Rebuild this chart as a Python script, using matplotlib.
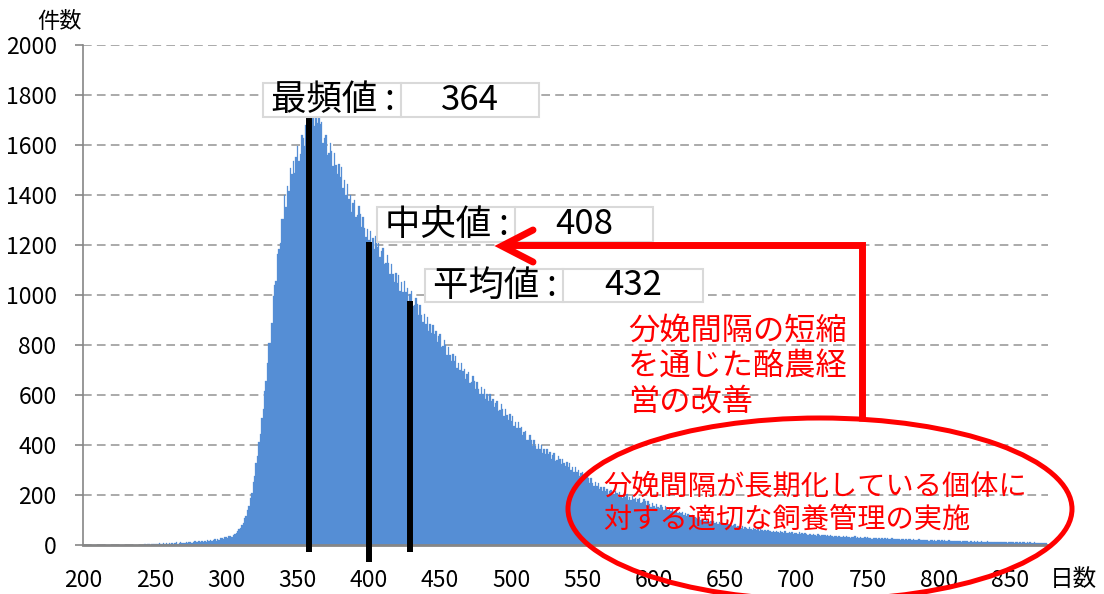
"""
calving interval histogram (days) with mode / median / mean markers
"""

import numpy as np
import matplotlib as mpl
mpl.use('Agg')
import matplotlib.pyplot as plt
from matplotlib.patches import Rectangle, Ellipse
from matplotlib.lines import Line2D
from matplotlib.transforms import Affine2D

plt.rcParams['font.family'] = ['Noto Sans CJK JP', 'DejaVu Sans']

# data: number of cows per calving interval (1 day bins)
day_start = 200
counts = [
    0, 0, 0, 0, 0, 0, 0, 0, 0, 0,
    0, 0, 0, 0, 0, 0, 0, 0, 0, 1,
    0, 0, 1, 0, 0, 1, 0, 0, 1, 0,
    1, 0, 1, 1, 0, 1, 2, 1, 1, 2,
    2, 1, 2, 3, 1, 3, 4, 2, 5, 3,
    6, 3, 5, 7, 4, 6, 8, 5, 7, 5,
    8, 5, 9, 6, 8, 11, 6, 9, 12, 7,
    10, 8, 13, 9, 11, 14, 9, 12, 15, 11,
    13, 16, 11, 17, 13, 18, 14, 19, 15, 21,
    17, 21, 24, 18, 25, 20, 27, 29, 23, 31,
    33, 27, 35, 38, 32, 41, 44, 49, 55, 63,
    70, 82, 88, 108, 118, 142, 158, 190, 210, 252,
    276, 328, 356, 412, 446, 508, 545, 615, 655, 728,
    810, 810, 890, 998, 1039, 1058, 1164, 1183, 1210, 1303,
    1305, 1400, 1352, 1436, 1416, 1510, 1484, 1536, 1490, 1554,
    1598, 1535, 1565, 1640, 1627, 1595, 1682, 1653, 1640, 1714,
    1682, 1728, 1675, 1726, 1687, 1725, 1683, 1691, 1610, 1627,
    1640, 1560, 1568, 1610, 1576, 1517, 1568, 1520, 1483, 1526,
    1472, 1513, 1427, 1459, 1400, 1445, 1385, 1399, 1333, 1367,
    1382, 1313, 1319, 1355, 1324, 1273, 1314, 1267, 1232, 1266,
    1220, 1255, 1190, 1227, 1186, 1235, 1192, 1208, 1152, 1178,
    1190, 1124, 1128, 1160, 1130, 1084, 1124, 1084, 1054, 1089,
    1048, 1082, 1018, 1051, 1012, 1056, 1014, 1029, 977, 1004,
    1016, 956, 961, 990, 964, 922, 959, 920, 892, 924,
    886, 914, 858, 884, 847, 882, 845, 857, 812, 835,
    846, 794, 797, 822, 799, 762, 794, 761, 738, 765,
    735, 758, 710, 730, 699, 728, 696, 705, 666, 684,
    694, 648, 652, 676, 656, 624, 654, 626, 606, 632,
    605, 626, 584, 603, 576, 603, 576, 586, 552, 569,
    578, 537, 541, 563, 545, 517, 544, 519, 500, 523,
    498, 516, 478, 494, 469, 492, 467, 472, 439, 451,
    457, 421, 422, 439, 422, 397, 420, 398, 383, 403,
    383, 400, 368, 384, 363, 384, 363, 371, 346, 360,
    367, 338, 341, 358, 346, 326, 346, 328, 315, 332,
    314, 328, 300, 313, 294, 312, 294, 299, 277, 288,
    294, 266, 268, 282, 270, 250, 268, 250, 238, 253,
    236, 249, 223, 234, 217, 234, 218, 225, 205, 216,
    222, 200, 203, 216, 208, 194, 211, 199, 190, 204,
    191, 204, 182, 194, 181, 198, 184, 190, 172, 183,
    190, 168, 171, 184, 175, 160, 176, 163, 154, 168,
    158, 149, 163, 152, 147, 160, 151, 141, 155, 144,
    139, 148, 135, 143, 131, 138, 146, 129, 134, 127,
    131, 122, 128, 117, 125, 119, 112, 121, 108, 114,
    110, 104, 113, 99, 106, 101, 95, 104, 97, 92,
    98, 90, 95, 87, 93, 84, 91, 88, 82, 89,
    86, 80, 84, 77, 82, 75, 79, 83, 72, 76,
    74, 70, 77, 66, 72, 68, 64, 71, 66, 62,
    68, 63, 60, 66, 58, 63, 61, 56, 62, 57,
    60, 55, 58, 53, 57, 52, 56, 54, 50, 55,
    53, 49, 55, 50, 47, 52, 48, 51, 45, 50,
    49, 46, 51, 44, 48, 43, 47, 45, 41, 46,
    44, 40, 45, 42, 38, 43, 40, 37, 42, 39,
    41, 37, 40, 35, 39, 36, 34, 38, 35, 33,
    37, 34, 31, 36, 33, 35, 31, 34, 30, 33,
    32, 35, 30, 33, 29, 32, 30, 28, 31, 27,
    31, 28, 30, 26, 29, 27, 30, 25, 28, 26,
    29, 26, 28, 24, 27, 25, 23, 27, 24, 26,
    25, 23, 26, 22, 25, 23, 21, 24, 22, 23,
    24, 21, 23, 20, 22, 21, 23, 19, 22, 20,
    21, 19, 22, 18, 20, 21, 18, 20, 17, 19,
    20, 18, 19, 17, 20, 16, 18, 19, 16, 17,
    18, 16, 17, 15, 18, 16, 14, 17, 15, 16,
    16, 14, 17, 15, 13, 16, 14, 15, 13, 14,
    15, 13, 14, 12, 15, 13, 12, 14, 12, 13,
    13, 12, 14, 11, 13, 12, 11, 13, 10, 12,
    12, 11, 13, 10, 12, 11, 10, 12, 10, 11,
    11, 10, 12, 9, 11, 10, 9, 11, 9, 10,
    10, 9, 10, 8, 9, 8,
]
days = np.arange(day_start, day_start + len(counts))

x_ticks = list(range(200, 851, 50))
y_ticks = list(range(0, 2001, 200))

stat_names = ['最頻値', '中央値', '平均値']
stat_values = [364, 408, 432]
# black marker lines as drawn on the chart
stat_line_days = [358, 400, 429]
stat_line_tops = [1708, 1212, 976]
stat_line_bottoms = [-28, -68, -28]

text_short = '分娩間隔の短縮\nを通じた酪農経\n営の改善'
text_long = '分娩間隔が長期化している個体に\n対する適切な飼養管理の実施'

# figure in pixels
W, H = 1104, 594
fig = plt.figure(figsize=(W/100., H/100.), dpi=100)
ax = fig.add_axes([83./W, 49./H, 965./W, 500./H])
# pixel coords from top-left for the annotation shapes
px = Affine2D().scale(1./W, -1./H).translate(0, 1) + fig.transFigure

ax.bar(days, counts, width=1.0, color='#558ed5',
       edgecolor='#558ed5', linewidth=0.2, zorder=2)

ax.set_xlim(199.5, 876.5)
ax.set_ylim(0, 2000)
ax.set_xticks(x_ticks)
ax.set_yticks(y_ticks)
ax.tick_params(axis='x', length=0, pad=17, labelsize=16.5)
ax.tick_params(axis='y', length=6, width=1.2, color='#868686',
               pad=13, labelsize=16.5)
ax.yaxis.grid(True, color='#a0a0a0', linewidth=1.25,
              linestyle=(0, (5, 3)))
ax.set_axisbelow(True)
for s in ['top', 'right']:
    ax.spines[s].set_visible(False)
ax.spines['left'].set_color('#868686')
ax.spines['left'].set_linewidth(1.2)
ax.spines['bottom'].set_color('#868686')
ax.spines['bottom'].set_linewidth(2.0)
ax.spines['bottom'].set_zorder(3)

ax.vlines(stat_line_days, stat_line_bottoms, stat_line_tops,
          colors='black', linewidth=4.3, clip_on=False, zorder=4)

# label boxes: left, top, divider, right, bottom (pixels)
boxes = [(263, 83, 401, 539, 117),
         (377, 207, 515, 653, 242),
         (425, 269, 563, 703, 302)]
for name, val, (x0, y0, xd, x1, y1) in zip(stat_names, stat_values, boxes):
    fig.add_artist(Rectangle((x0, y0), x1-x0, y1-y0, transform=px,
                             facecolor='white', edgecolor='#d9d9d9',
                             linewidth=1.5, zorder=5))
    fig.add_artist(Line2D([xd, xd], [y0, y1], transform=px,
                          color='#d9d9d9', linewidth=1.5, zorder=5))
    fig.text(x0+8, (y0+y1)/2., name+' :', transform=px, ha='left',
             va='center', fontsize=25.5, zorder=6)
    fig.text((xd+x1)/2., (y0+y1)/2., str(val), transform=px, ha='center',
             va='center', fontsize=25, zorder=6)

# red arrow
fig.add_artist(Line2D([862, 862, 504], [421, 245, 245], transform=px,
                      color='red', linewidth=5, solid_joinstyle='miter',
                      solid_capstyle='butt', zorder=5))
fig.add_artist(Line2D([533, 502, 533], [230, 246, 262], transform=px,
                      color='red', linewidth=5, solid_joinstyle='miter',
                      solid_capstyle='round', zorder=5))

# red ellipse
fig.add_artist(Ellipse((820, 509), 504, 182, transform=px, fill=False,
                       edgecolor='red', linewidth=3.6, zorder=5))

fig.text(628, 366, text_short, transform=px, ha='left', va='center',
         color='red', fontsize=22.5, linespacing=1.12, zorder=6)
fig.text(603, 503, text_long, transform=px, ha='left', va='center',
         color='red', fontsize=20.3, linespacing=1.1, zorder=6)

fig.text(37, 21, '件数', transform=px, ha='left', va='center', fontsize=16)
fig.text(1050, 580, '日数', transform=px, ha='left', va='center', fontsize=17)

fig.savefig('out.png', dpi=100)
plt.close('all')
